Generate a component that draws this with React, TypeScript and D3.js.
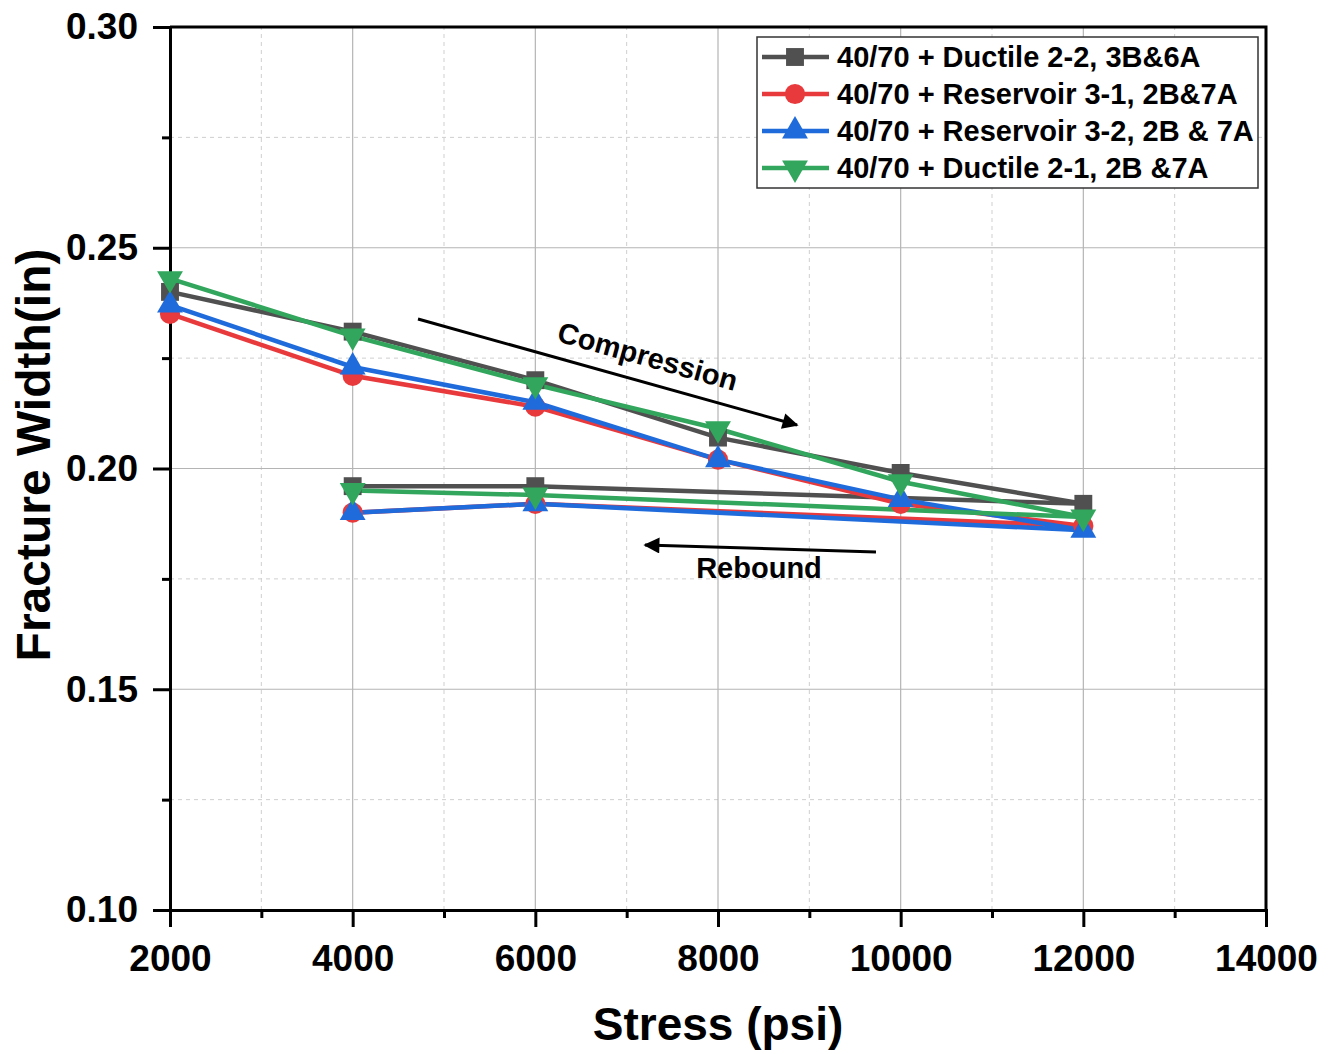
import React from 'react';
import * as d3 from 'd3';

const stress = [2000, 4000, 6000, 8000, 10000, 12000, 6000, 4000];
const ductile22 = [0.240, 0.231, 0.220, 0.207, 0.199, 0.192, 0.196, 0.196];
const reservoir31 = [0.235, 0.221, 0.214, 0.202, 0.192, 0.187, 0.192, 0.190];
const reservoir32 = [0.237, 0.223, 0.215, 0.202, 0.193, 0.186, 0.192, 0.190];
const ductile21 = [0.243, 0.230, 0.219, 0.209, 0.197, 0.189, 0.194, 0.195];

const seriesNames = [
  '40/70 + Ductile 2-2, 3B&6A',
  '40/70 + Reservoir 3-1, 2B&7A',
  '40/70 + Reservoir 3-2, 2B & 7A',
  '40/70 + Ductile 2-1, 2B &7A',
];
const xTicks = [2000, 4000, 6000, 8000, 10000, 12000, 14000];
const yTicks = [0.10, 0.15, 0.20, 0.25, 0.30];

const colors = ['#505050', '#e83a3c', '#1f6bdc', '#31a65c'];
const symbols = [d3.symbolSquare, d3.symbolCircle, d3.symbolTriangle, d3.symbolTriangle];

export default function App() {
  const ref = React.useRef<SVGSVGElement>(null);
  const width = 1338;
  const height = 1054;
  const margin = { left: 170, right: 72, top: 27, bottom: 144 };

  React.useEffect(() => {
    const svg = d3.select(ref.current);
    svg.selectAll('*').remove();
    const font = '"Liberation Sans", Arial, sans-serif';

    const x = d3.scaleLinear().domain([2000, 14000]).range([margin.left, width - margin.right]);
    const y = d3.scaleLinear().domain([0.10, 0.30]).range([height - margin.bottom, margin.top]);

    // grid
    const grid = svg.append('g');
    d3.range(3000, 14000, 2000).forEach((v) => {
      grid.append('line').attr('x1', x(v)).attr('x2', x(v)).attr('y1', y(0.1)).attr('y2', y(0.3))
        .attr('stroke', '#cfcfcf').attr('stroke-width', 1).attr('stroke-dasharray', '4,4');
    });
    [0.125, 0.175, 0.225, 0.275].forEach((v) => {
      grid.append('line').attr('x1', x(2000)).attr('x2', x(14000)).attr('y1', y(v)).attr('y2', y(v))
        .attr('stroke', '#cfcfcf').attr('stroke-width', 1).attr('stroke-dasharray', '4,4');
    });
    xTicks.slice(1, -1).forEach((v) => {
      grid.append('line').attr('x1', x(v)).attr('x2', x(v)).attr('y1', y(0.1)).attr('y2', y(0.3))
        .attr('stroke', '#b4b4b4').attr('stroke-width', 1.2);
    });
    yTicks.slice(1, -1).forEach((v) => {
      grid.append('line').attr('x1', x(2000)).attr('x2', x(14000)).attr('y1', y(v)).attr('y2', y(v))
        .attr('stroke', '#b4b4b4').attr('stroke-width', 1.2);
    });

    // axes
    const xAxis = svg.append('g').attr('transform', `translate(0,${y(0.1)})`)
      .call(d3.axisBottom(x).tickValues(xTicks).tickSize(17).tickPadding(18).tickFormat(d3.format('d')));
    svg.append('g').attr('transform', `translate(0,${y(0.1)})`)
      .call(d3.axisBottom(x).tickValues(d3.range(3000, 14000, 2000)).tickSize(8).tickFormat(() => ''))
      .call((g) => g.select('.domain').remove());
    const yAxis = svg.append('g').attr('transform', `translate(${x(2000)},0)`)
      .call(d3.axisLeft(y).tickValues(yTicks).tickSize(17).tickPadding(15).tickFormat(d3.format('.2f')));
    svg.append('g').attr('transform', `translate(${x(2000)},0)`)
      .call(d3.axisLeft(y).tickValues([0.125, 0.175, 0.225, 0.275]).tickSize(8).tickFormat(() => ''))
      .call((g) => g.select('.domain').remove());
    [xAxis, yAxis].forEach((g) => {
      g.selectAll('text').attr('font-family', font).attr('font-weight', 'bold').attr('font-size', 37).attr('fill', '#000');
      g.select('.domain').attr('stroke-width', 3);
    });
    svg.selectAll('.tick line').attr('stroke-width', 3);
    // top and right border
    svg.append('path')
      .attr('d', `M${x(2000)},${y(0.3)}H${x(14000)}V${y(0.1)}`)
      .attr('fill', 'none').attr('stroke', '#000').attr('stroke-width', 3);

    // series
    const all = [ductile22, reservoir31, reservoir32, ductile21];
    const line = d3.line<number>().x((_, i) => x(stress[i])).y((d) => y(d));
    all.forEach((vals, s) => {
      svg.append('path').datum(vals).attr('d', line).attr('fill', 'none')
        .attr('stroke', colors[s]).attr('stroke-width', 4.5);
    });
    all.forEach((vals, s) => {
      const size = s < 2 ? 320 : 290;
      const sym = d3.symbol().type(symbols[s]).size(size);
      vals.forEach((v, i) => {
        svg.append('path').attr('d', sym())
          .attr('transform', `translate(${x(stress[i])},${y(v)})${s === 3 ? ' rotate(180)' : ''}`)
          .attr('fill', colors[s]);
      });
    });

    // legend
    const lg = svg.append('g');
    lg.append('rect').attr('x', 757).attr('y', 37).attr('width', 501).attr('height', 151)
      .attr('fill', '#fff').attr('stroke', '#333').attr('stroke-width', 1.5);
    seriesNames.forEach((name, s) => {
      const ly = 57 + s * 37;
      lg.append('line').attr('x1', 762).attr('x2', 829).attr('y1', ly).attr('y2', ly)
        .attr('stroke', colors[s]).attr('stroke-width', 4.5);
      const sym = d3.symbol().type(symbols[s]).size(s < 2 ? 320 : 290);
      lg.append('path').attr('d', sym())
        .attr('transform', `translate(795,${ly})${s === 3 ? ' rotate(180)' : ''}`)
        .attr('fill', colors[s]);
      lg.append('text').attr('x', 837).attr('y', ly + 10).text(name)
        .attr('font-family', font).attr('font-weight', 'bold').attr('font-size', 29).attr('fill', '#000');
    });

    // annotations
    const defs = svg.append('defs');
    defs.append('marker').attr('id', 'ah').attr('viewBox', '0 0 10 10').attr('refX', 9).attr('refY', 5)
      .attr('orient', 'auto').attr('markerUnits', 'userSpaceOnUse')
      .attr('markerWidth', 32).attr('markerHeight', 16)
      .append('path').attr('d', 'M0,0L10,5L0,10z').attr('fill', '#000');
    svg.append('line').attr('x1', 418).attr('y1', 319).attr('x2', 797).attr('y2', 425)
      .attr('stroke', '#000').attr('stroke-width', 3).attr('marker-end', 'url(#ah)');
    svg.append('text').attr('transform', 'translate(645,366) rotate(15.6)').attr('text-anchor', 'middle')
      .attr('font-family', font).attr('font-weight', 'bold').attr('font-size', 29).text('Compression');
    svg.append('line').attr('x1', 876).attr('y1', 552).attr('x2', 645).attr('y2', 545)
      .attr('stroke', '#000').attr('stroke-width', 3).attr('marker-end', 'url(#ah)');
    svg.append('text').attr('x', 759).attr('y', 578).attr('text-anchor', 'middle')
      .attr('font-family', font).attr('font-weight', 'bold').attr('font-size', 29).text('Rebound');

    // axis titles
    svg.append('text').attr('x', 718).attr('y', 1040).attr('text-anchor', 'middle')
      .attr('font-family', font).attr('font-weight', 'bold').attr('font-size', 46).text('Stress (psi)');
    svg.append('text').attr('transform', `translate(50,${455}) rotate(-90)`)
      .attr('text-anchor', 'middle')
      .attr('font-family', font).attr('font-weight', 'bold').attr('font-size', 48).text('Fracture Width(in)');
  }, []);

  return (
    <svg ref={ref} width={width} height={height}
      style={{ position: 'absolute', left: 0, top: 0, background: '#fff' }} />
  );
}
